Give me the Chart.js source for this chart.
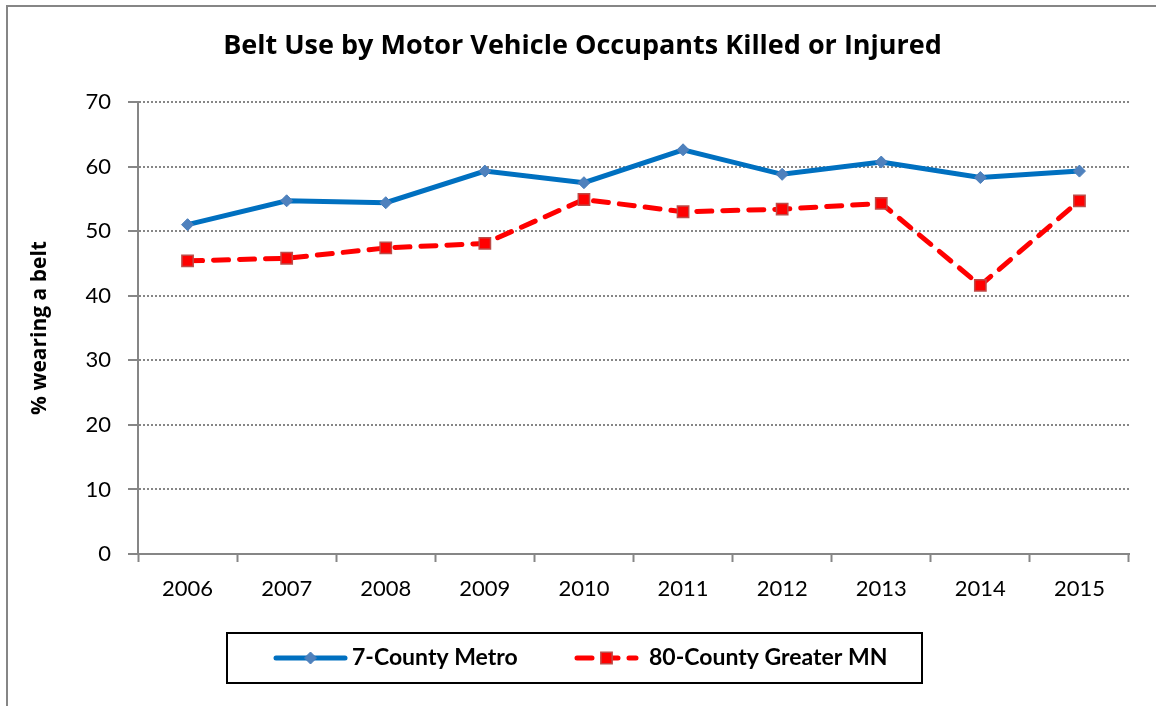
<!DOCTYPE html>
<html><head><meta charset="utf-8">
<script src="https://cdn.jsdelivr.net/npm/chart.js@4.4.0/dist/chart.umd.min.js"></script>
<style>html,body{margin:0;padding:0;background:#fff}#wrap{width:1156px;height:706px;position:relative}</style>
</head><body><div id="wrap"><canvas id="c" width="1156" height="706"></canvas></div>
<script>
const years = ['2006','2007','2008','2009','2010','2011','2012','2013','2014','2015'];
const metro = [51.0, 54.7, 54.4, 59.3, 57.5, 62.6, 58.8, 60.7, 58.3, 59.3];
const greater = [45.4, 45.8, 47.4, 48.1, 54.9, 53.0, 53.4, 54.3, 41.6, 54.7];
const seriesNames = ['7-County Metro', '80-County Greater MN'];
const chartTitle = 'Belt Use by Motor Vehicle Occupants Killed or Injured';
const yTitle = '% wearing a belt';
const yMin = 0, yMax = 70, yStep = 10;

const FONT = 'Lato, "Open Sans", sans-serif';
const TFONT = '"Open Sans", Lato, sans-serif';
const GRAY = '#868686';

const framePlugin = {
  id: 'frame',
  beforeDraw(chart) {
    const ctx = chart.ctx;
    ctx.save();
    ctx.fillStyle = '#fff';
    ctx.fillRect(0, 0, chart.width, chart.height);
    ctx.strokeStyle = GRAY;
    ctx.lineWidth = 2;
    ctx.strokeRect(7, 6, chart.width + 20, chart.height + 20);
    ctx.restore();
  }
};

const legendPlugin = {
  id: 'boxLegend',
  afterDraw(chart) {
    const ctx = chart.ctx;
    const box = {x: 227, y: 633, w: 695, h: 50};
    const cy = box.y + box.h / 2;
    ctx.save();
    ctx.strokeStyle = '#000';
    ctx.lineWidth = 2;
    ctx.strokeRect(box.x, box.y, box.w, box.h);
    const items = [
      {x0: 276, x1: 345, tx: 352},
      {x0: 577, x1: 636, tx: 649}
    ];
    chart.data.datasets.forEach((ds, i) => {
      const it = items[i];
      ctx.save();
      ctx.strokeStyle = ds.borderColor;
      ctx.lineWidth = ds.borderWidth;
      ctx.lineCap = 'round';
      ctx.setLineDash(ds.borderDash || []);
      ctx.beginPath();
      ctx.moveTo(it.x0, cy);
      ctx.lineTo(it.x1, cy);
      ctx.stroke();
      ctx.restore();
      ctx.save();
      ctx.fillStyle = ds.pointBackgroundColor;
      ctx.strokeStyle = ds.pointBorderColor;
      ctx.lineWidth = ds.pointBorderWidth;
      Chart.helpers.drawPoint(ctx, {pointStyle: ds.pointStyle, radius: ds.pointRadius, rotation: 0, borderWidth: ds.pointBorderWidth}, (it.x0 + it.x1) / 2, cy);
      ctx.restore();
      ctx.fillStyle = '#000';
      ctx.font = 'bold 23px ' + FONT;
      ctx.textBaseline = 'middle';
      ctx.textAlign = 'left';
      ctx.fillText(ds.label, it.tx, cy);
    });
    ctx.restore();
  }
};

new Chart(document.getElementById('c'), {
  type: 'line',
  data: {
    labels: years,
    datasets: [
      {
        label: seriesNames[0],
        data: metro,
        borderColor: '#0070C0',
        borderWidth: 5,
        pointStyle: 'rectRot',
        pointRadius: 6,
        pointBackgroundColor: '#4F81BD',
        pointBorderColor: '#4A7EBB',
        pointBorderWidth: 1,
        tension: 0,
        fill: false
      },
      {
        label: seriesNames[1],
        data: greater,
        borderColor: '#FF0000',
        borderWidth: 5,
        borderDash: [15, 11],
        borderCapStyle: 'round',
        pointStyle: 'rect',
        pointRadius: 8,
        pointBackgroundColor: '#FF0000',
        pointBorderColor: '#BE4B48',
        pointBorderWidth: 1.5,
        tension: 0,
        fill: false
      }
    ]
  },
  options: {
    responsive: false,
    animation: false,
    layout: {padding: {top: 0, left: 36, right: 27, bottom: 92}},
    plugins: {
      legend: {display: false},
      tooltip: {enabled: false},
      title: {
        display: true,
        text: chartTitle,
        color: '#000',
        font: {family: TFONT, size: 27, weight: 'bold', lineHeight: 1.2},
        padding: {top: 30, bottom: 39.6}
      }
    },
    scales: {
      x: {
        offset: true,
        grid: {
          offset: true,
          drawOnChartArea: false,
          drawTicks: true,
          tickLength: 8,
          tickColor: GRAY,
          tickWidth: 2
        },
        border: {display: true, color: GRAY, width: 2},
        ticks: {color: '#000', font: {family: FONT, size: 22}, padding: 14},
        afterFit(s) { s.height = 60; }
      },
      y: {
        min: yMin,
        max: yMax,
        ticks: {stepSize: yStep, color: '#000', font: {family: FONT, size: 22}, padding: 17},
        grid: {
          color: GRAY,
          lineWidth: 2,
          drawTicks: true,
          tickLength: 10,
          tickColor: GRAY,
          tickWidth: 2,
          tickBorderDash: []
        },
        border: {display: true, color: GRAY, width: 2, dash: [2, 2]},
        title: {
          display: true,
          text: yTitle,
          color: '#000',
          font: {family: TFONT, size: 21, weight: 'bold', lineHeight: 1.2},
          padding: {top: -8.6, bottom: 0}
        },
        afterFit(s) { s.width = 102; }
      }
    }
  },
  plugins: [framePlugin, legendPlugin]
});
</script>
</body></html>
